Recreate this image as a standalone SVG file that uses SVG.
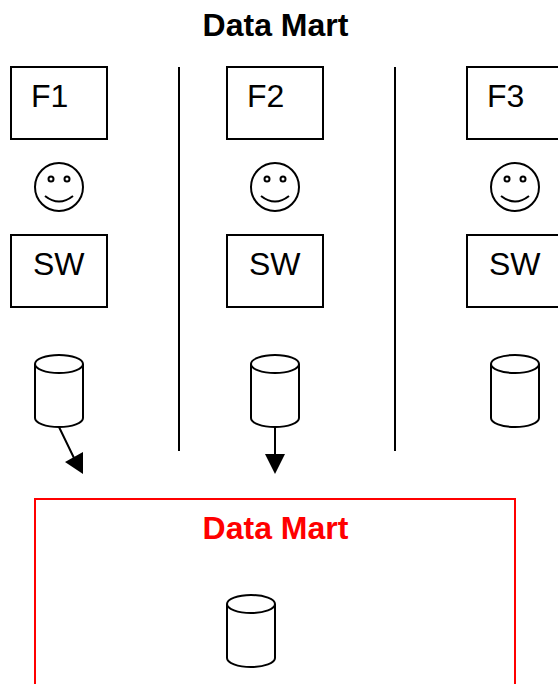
<svg xmlns="http://www.w3.org/2000/svg" width="558" height="684" viewBox="0 0 558 684">
<style>
.s{fill:#fff;stroke:#000;stroke-width:2}
.n{fill:none;stroke:#000;stroke-width:2}
.t{font-family:"Liberation Sans",Arial,sans-serif;font-size:32px;fill:#000}
.h{font-family:"Liberation Sans",Arial,sans-serif;font-size:32px;font-weight:bold;text-anchor:middle}
</style>
<defs>
<g id="smile">
<circle class="n" cx="0" cy="0" r="24"/>
<circle class="n" cx="-8" cy="-8" r="2.500"/>
<circle class="n" cx="8" cy="-8" r="2.500"/>
<path class="n" d="M-14 9Q0 20 14 9"/>
</g>
<g id="db">
<path class="s" d="M0 9V63A24 9 0 0 0 48 63V9"/>
<ellipse class="s" cx="24" cy="9" rx="24" ry="9"/>
</g>
</defs>
<rect width="558" height="684" fill="#fff"/>
<text id="title" class="h" x="275.500" y="36">Data Mart</text>
<g id="connectors">
<path class="n" d="M179 67V451M395 67V451"/>
<path class="n" d="M59 427L74 458M275 427V456"/>
<path d="M83 474L65 462L83 452Z"/>
<path d="M275 474L265 454H285Z"/>
</g>
<g id="f1"><rect class="n" x="11" y="67" width="96" height="72"/><text class="t" x="31" y="107">F1</text></g>
<g id="f2"><rect class="n" x="227" y="67" width="96" height="72"/><text class="t" x="247" y="107">F2</text></g>
<g id="f3"><rect class="n" x="467" y="67" width="96" height="72"/><text class="t" x="487" y="107">F3</text></g>
<g id="smile1"><use href="#smile" x="59" y="187"/></g>
<g id="smile2"><use href="#smile" x="275" y="187"/></g>
<g id="smile3"><use href="#smile" x="515" y="187"/></g>
<g id="sw1"><rect class="n" x="11" y="235" width="96" height="72"/><text class="t" x="33" y="275">SW</text></g>
<g id="sw2"><rect class="n" x="227" y="235" width="96" height="72"/><text class="t" x="249" y="275">SW</text></g>
<g id="sw3"><rect class="n" x="467" y="235" width="96" height="72"/><text class="t" x="489" y="275">SW</text></g>
<g id="db1"><use href="#db" x="35" y="355"/></g>
<g id="db2"><use href="#db" x="251" y="355"/></g>
<g id="db3"><use href="#db" x="491" y="355"/></g>
<g id="mart">
<rect x="35" y="499" width="480" height="200" fill="none" stroke="#f00" stroke-width="2"/>
<text class="h" x="275.500" y="539" fill="#f00">Data Mart</text>
<use href="#db" x="227" y="595"/>
</g>
</svg>
